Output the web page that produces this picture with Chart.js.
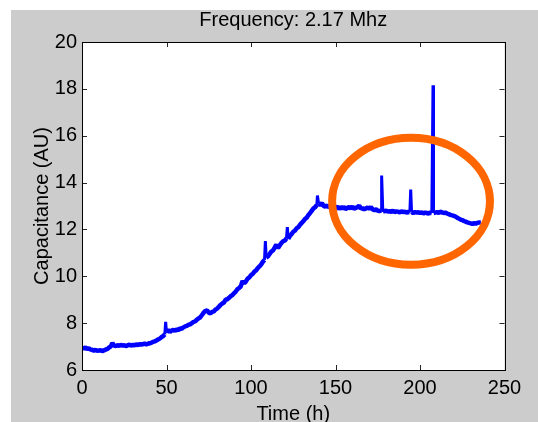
<!DOCTYPE html>
<html>
<head>
<meta charset="utf-8">
<script src="https://cdn.jsdelivr.net/npm/chart.js@4.4.1/dist/chart.umd.min.js"></script>
<style>
  html, body { margin: 0; padding: 0; overflow: hidden; background: #ffffff; }
  #wrap { width: 538px; height: 422px; }
</style>
</head>
<body>
<div id="wrap"><canvas id="chart" width="538" height="422"></canvas></div>
<script>
// time (h) and capacitance readings
const hours = [
  0, 1, 2, 3, 4, 5, 6, 7, 8, 9, 10, 11, 12, 13, 14, 15, 16, 17, 18, 19,
  20, 21, 22, 23, 24, 25, 26, 27, 28, 29, 30, 31, 32, 33, 34, 35, 36, 37, 38, 39,
  40, 41, 42, 43, 44, 45, 46, 47, 48, 49, 49.5,
  50, 51, 52, 53, 54, 55, 56, 57, 58, 59,
  60, 61, 62, 63, 64, 65, 66, 67, 68, 69,
  70, 71, 72, 73, 74, 75, 76, 77, 78, 79,
  80, 81, 82, 83, 84, 85, 86, 87, 88, 89,
  90, 91, 92, 93, 94, 95, 96, 97, 98, 99,
  100, 101, 102, 103, 104, 105, 106, 107, 108, 108.5, 109,
  110, 111, 112, 113, 114, 115, 116, 117, 118, 119,
  120, 121, 121.5, 122, 123, 124, 125, 126, 127, 128, 129,
  130, 131, 132, 133, 134, 135, 136, 137, 138, 139, 139.3,
  140, 141, 142, 143, 144, 145, 146, 147, 148, 149,
  150, 151, 152, 153, 154, 155, 156, 157, 158, 159,
  160, 161, 162, 163, 164, 165, 166, 167, 168, 169,
  170, 171, 172, 173, 174, 175, 176, 177, 177.3, 178, 179,
  180, 181, 182, 183, 184, 185, 186, 187, 188, 189,
  190, 191, 192, 193, 194, 194.5, 195, 196, 197, 198, 199,
  200, 201, 202, 203, 204, 205, 206, 207, 207.7, 208, 209,
  210, 211, 212, 213, 214, 215, 216, 217, 218, 219,
  220, 221, 222, 223, 224, 225, 226, 227, 228, 229,
  230, 231, 232, 233, 234, 235, 236
];
const capacitance = [
  6.95, 6.92, 6.96, 6.9, 6.93, 6.87, 6.86, 6.83, 6.86, 6.82, 6.83, 6.85, 6.8, 6.84, 6.87, 6.9, 6.96, 7.0, 7.15, 7.04,
  7.02, 7.06, 7.03, 7.07, 7.04, 7.06, 7.02, 7.05, 7.08, 7.04, 7.07, 7.05, 7.1, 7.06, 7.11, 7.08, 7.1, 7.13, 7.09, 7.12,
  7.14, 7.16, 7.2, 7.22, 7.26, 7.3, 7.34, 7.4, 7.45, 7.52, 8.05,
  7.6, 7.72, 7.62, 7.68, 7.72, 7.66, 7.74, 7.7, 7.78, 7.76,
  7.82, 7.86, 7.88, 7.93, 7.95, 8.0, 8.05, 8.08, 8.15, 8.2,
  8.25, 8.35, 8.45, 8.52, 8.55, 8.45, 8.42, 8.48, 8.5, 8.58,
  8.62, 8.7, 8.78, 8.84, 8.88, 9.0, 9.02, 9.08, 9.15, 9.2,
  9.28, 9.35, 9.45, 9.5, 9.58, 9.8, 9.7, 9.78, 9.9, 9.95,
  10.05, 10.1, 10.2, 10.25, 10.35, 10.42, 10.5, 10.62, 10.7, 11.5, 10.8,
  10.85, 10.95, 11.05, 11.1, 11.22, 11.35, 11.2, 11.32, 11.42, 11.5,
  11.52, 11.62, 12.1, 11.6, 11.72, 11.8, 11.9, 11.95, 12.05, 12.1, 12.2,
  12.28, 12.35, 12.45, 12.5, 12.62, 12.7, 12.8, 12.9, 12.95, 13.05, 13.45,
  13.1, 13.05, 13.12, 13.0, 12.98, 13.02, 12.95, 13.0, 12.93, 12.98,
  12.92, 12.97, 12.88, 12.95, 12.9, 12.96, 12.87, 12.92, 12.95, 12.9,
  12.98, 12.88, 12.92, 12.95, 13.02, 12.88, 12.92, 12.85, 12.9, 12.94,
  12.88, 12.95, 12.85, 12.82, 12.86, 12.8, 12.78, 12.8, 14.3, 12.75, 12.79,
  12.8, 12.76, 12.78, 12.75, 12.8, 12.74, 12.77, 12.76, 12.72, 12.78,
  12.74, 12.76, 12.72, 12.75, 12.73, 13.7, 12.75, 12.7, 12.74, 12.72, 12.73,
  12.7, 12.73, 12.68, 12.72, 12.7, 12.68, 12.72, 12.7, 18.15, 12.7, 12.72,
  12.74, 12.7, 12.76, 12.73, 12.7, 12.72, 12.68, 12.65, 12.62, 12.6,
  12.58, 12.55, 12.5, 12.46, 12.42, 12.4, 12.36, 12.33, 12.3, 12.28,
  12.26, 12.24, 12.27, 12.25, 12.28, 12.3, 12.3
];

const xTicks = [0, 50, 100, 150, 200, 250];
const yTicks = [6, 8, 10, 12, 14, 16, 18, 20];

// orange ring drawn over the plateau, in data units
const ringCenter = [194.7, 13.2];
const ringRadius = [46.7, 2.71];

const points = hours.map((h, i) => ({ x: h, y: capacitance[i] }));

const matlabFrame = {
  id: 'matlabFrame',
  beforeDraw(chart) {
    const ctx = chart.ctx, a = chart.chartArea;
    ctx.save();
    ctx.fillStyle = '#ffffff';
    ctx.fillRect(0, 0, chart.width, chart.height);
    ctx.fillStyle = '#cccccc';
    ctx.fillRect(11, 10, chart.width - 11, chart.height - 10);
    ctx.fillStyle = '#ffffff';
    ctx.fillRect(a.left, a.top, a.right - a.left, a.bottom - a.top);
    ctx.restore();
  },
  afterDatasetsDraw(chart) {
    const ctx = chart.ctx, a = chart.chartArea;
    const xs = chart.scales.x, ys = chart.scales.y;
    ctx.save();
    // ring annotation
    ctx.strokeStyle = '#ff6600';
    ctx.lineWidth = 8;
    const cx = xs.getPixelForValue(ringCenter[0]);
    const cy = ys.getPixelForValue(ringCenter[1]);
    const rx = xs.getPixelForValue(ringCenter[0] + ringRadius[0]) - cx;
    const ry = cy - ys.getPixelForValue(ringCenter[1] + ringRadius[1]);
    ctx.beginPath();
    ctx.ellipse(cx, cy, rx, ry, 0, 0, Math.PI * 2);
    ctx.stroke();
    // inward ticks and box
    ctx.strokeStyle = '#262626';
    ctx.lineWidth = 1;
    ctx.beginPath();
    xTicks.forEach(v => {
      const p = Math.round(xs.getPixelForValue(v)) + 0.5;
      ctx.moveTo(p, a.bottom); ctx.lineTo(p, a.bottom - 5);
      ctx.moveTo(p, a.top); ctx.lineTo(p, a.top + 5);
    });
    yTicks.forEach(v => {
      const p = Math.round(ys.getPixelForValue(v)) + 0.5;
      ctx.moveTo(a.left, p); ctx.lineTo(a.left + 5, p);
      ctx.moveTo(a.right, p); ctx.lineTo(a.right - 5, p);
    });
    ctx.stroke();
    ctx.strokeStyle = '#000000';
    ctx.strokeRect(Math.round(a.left) + 0.5, Math.round(a.top) + 0.5,
      Math.round(a.right - a.left), Math.round(a.bottom - a.top));
    ctx.restore();
  }
};

const font = { family: 'Liberation Sans, Arial, sans-serif', size: 20, weight: 'normal' };

new Chart(document.getElementById('chart').getContext('2d'), {
  type: 'line',
  data: {
    datasets: [{
      data: points,
      borderColor: '#0000ff',
      borderWidth: 4.5,
      borderJoinStyle: 'bevel',
      pointRadius: 0,
      tension: 0,
      fill: false,
      segment: {
        // the short glitches are drawn thinner, like the original trace
        borderWidth: c => Math.abs(c.p1.parsed.y - c.p0.parsed.y) > 0.3 ? 3 : undefined
      }
    }]
  },
  options: {
    responsive: false,
    animation: false,
    layout: { padding: { left: 0, right: 33.5, top: 0, bottom: 0 } },
    plugins: {
      legend: { display: false },
      tooltip: { enabled: false },
      title: {
        display: true,
        text: 'Frequency: 2.17 Mhz',
        color: '#000000',
        font: font,
        fullSize: false,
        padding: { top: 8, bottom: 10 }
      }
    },
    scales: {
      x: {
        type: 'linear',
        min: 0,
        max: 250,
        afterFit: s => { s.height = 52; },
        afterBuildTicks: s => { s.ticks = xTicks.map(v => ({ value: v })); },
        grid: { display: false, drawTicks: false },
        border: { display: false },
        ticks: { color: '#000000', font: font, padding: 6, maxRotation: 0 },
        title: { display: true, text: 'Time (h)', color: '#000000', font: font, padding: { top: 0, bottom: -4 } }
      },
      y: {
        min: 6,
        max: 20,
        afterFit: s => { s.width = 82; },
        afterBuildTicks: s => { s.ticks = yTicks.map(v => ({ value: v })); },
        grid: { display: false, drawTicks: false },
        border: { display: false },
        ticks: { color: '#000000', font: font, padding: 5 },
        title: { display: true, text: 'Capacitance (AU)', color: '#000000', font: font, padding: { top: 30, bottom: 0 } }
      }
    }
  },
  plugins: [matlabFrame]
});
</script>
</body>
</html>
